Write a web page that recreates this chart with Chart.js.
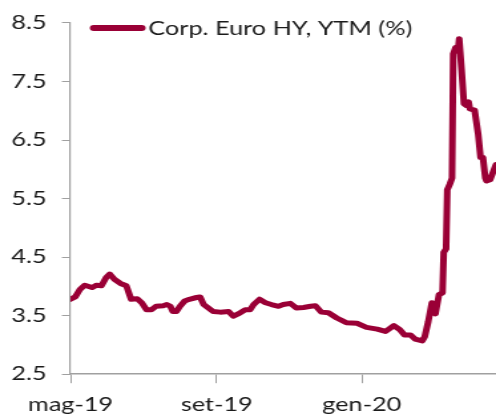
<!DOCTYPE html>
<html>
<head>
<meta charset="utf-8">
<script src="https://cdn.jsdelivr.net/npm/chart.js@4/dist/chart.umd.min.js"></script>
<style>
  html,body{margin:0;padding:0;background:#fff;overflow:hidden;}
  /* the reference is horizontally stretched, so the chart is drawn narrow and widened */
  #wrap{width:373px;height:420px;transform:scaleX(1.3298);transform-origin:0 0;}
</style>
</head>
<body>
<div id="wrap"><canvas id="chart" width="373" height="420"></canvas></div>
<script>
// days since 1 May 2019
const days = [0,4,8,12,18,22,26,30,33,37,42,47,51,56,60,64,68,72,78,81,84,86,89,92,96,100,106,109,112,116,120,126,133,137,141,147,151,154,159,164,169,175,179,185,190,196,202,206,211,217,224,232,241,249,258,265,272,277,281,286,290,296,298,301,304,307,310,313,314,316,317,319,321,322,324,326,327,329,331,333,335,336,340,343,345,347,349,350,353,356,358];
const ytm = [3.78,3.82,3.95,4.02,3.98,4.02,4.01,4.15,4.21,4.12,4.05,4.01,3.78,3.79,3.72,3.60,3.60,3.66,3.67,3.69,3.66,3.57,3.57,3.66,3.75,3.78,3.81,3.82,3.69,3.63,3.57,3.56,3.57,3.49,3.53,3.60,3.60,3.69,3.78,3.72,3.69,3.66,3.69,3.71,3.63,3.64,3.66,3.67,3.56,3.55,3.46,3.38,3.37,3.30,3.27,3.23,3.33,3.26,3.17,3.17,3.10,3.07,3.14,3.40,3.72,3.53,3.86,3.89,4.58,4.64,5.65,5.74,5.85,7.97,8.08,8.02,8.23,7.70,7.12,7.09,7.15,7.03,7.01,6.60,6.20,6.20,5.85,5.80,5.82,5.98,6.08];

const tickDays = [0,123,245];
const tickLabels = ['mag-19','set-19','gen-20'];
const yTicks = [2.5,3.5,4.5,5.5,6.5,7.5,8.5];

const red = '#9a0036';
const axisGrey = '#a0a0a0';
const font = {family:'Lato', size:19};

// legend drawn inside the plot, top left
const legendInside = {
  id:'legendInside',
  afterDraw(chart){
    const ctx = chart.ctx;
    const ds = chart.data.datasets[0];
    const y = 28;
    ctx.save();
    ctx.strokeStyle = ds.borderColor;
    ctx.lineWidth = 6;
    ctx.lineCap = 'round';
    ctx.beginPath();
    ctx.moveTo(70.5, y);
    ctx.lineTo(106.5, y);
    ctx.stroke();
    ctx.fillStyle = '#1a1a1a';
    ctx.font = '19px Lato';
    ctx.textBaseline = 'middle';
    ctx.fillText(ds.label, 111.5, y + 1);
    ctx.restore();
  }
};

new Chart(document.getElementById('chart'), {
  type:'line',
  data:{
    datasets:[{
      label:'Corp. Euro HY, YTM (%)',
      data: days.map((d,i)=>({x:d, y:ytm[i]})),
      borderColor:red,
      backgroundColor:red,
      borderWidth:5,
      pointRadius:0,
      tension:0,
      borderCapStyle:'round',
      borderJoinStyle:'round'
    }]
  },
  options:{
    responsive:false,
    animation:false,
    layout:{padding:{top:18,right:0,left:-3,bottom:-6}},
    plugins:{
      tooltip:{enabled:false},
      legend:{display:false}
    },
    scales:{
      x:{
        type:'linear',
        min:0,
        max:358,
        afterBuildTicks:axis=>{ axis.ticks = tickDays.map(v=>({value:v})); },
        ticks:{
          font:font,
          color:'#1a1a1a',
          padding:10,
          maxRotation:0,
          autoSkip:false,
          callback:(v,i)=>tickLabels[i]
        },
        grid:{drawOnChartArea:false, drawTicks:true, tickLength:9, color:axisGrey},
        border:{color:axisGrey, width:1.5}
      },
      y:{
        min:2.5,
        max:8.5,
        afterBuildTicks:axis=>{ axis.ticks = yTicks.map(v=>({value:v})); },
        ticks:{
          font:font,
          color:'#1a1a1a',
          padding:11.5,
          callback:v=>v.toFixed(1)
        },
        grid:{drawOnChartArea:false, drawTicks:true, tickLength:6.5, color:axisGrey},
        border:{color:axisGrey, width:1.2}
      }
    }
  },
  plugins:[legendInside]
});
</script>
</body>
</html>
